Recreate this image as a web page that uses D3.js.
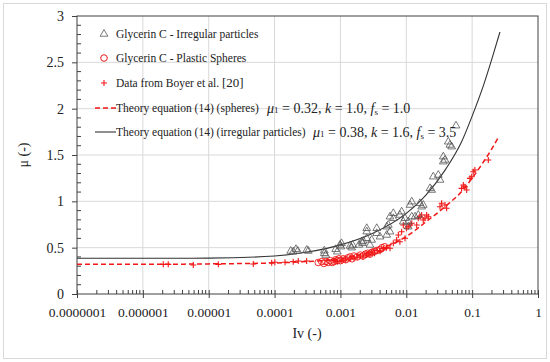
<!DOCTYPE html>
<html>
<head>
<meta charset="utf-8">
<script src="https://cdn.jsdelivr.net/npm/d3@7"></script>
<style>
  body { margin: 0; background: #fff; }
  text { font-family: "Liberation Serif", "Times New Roman", serif; fill: #222; }
</style>
</head>
<body>
<div id="chart"></div>
<script>
// theory curves (Iv, mu)
var theoryIv = [1e-7, 1e-6, 1e-5, 1e-4, 3e-4, 1e-3, 3e-3, 0.01, 0.02, 0.04, 0.07, 0.1, 0.15, 0.2, 0.245];
var theorySpheres = [0.32, 0.32, 0.325, 0.335, 0.35, 0.38, 0.46, 0.62, 0.78, 0.95, 1.11, 1.25, 1.43, 1.57, 1.68];
var theoryIrregIv = [1e-7, 1e-6, 1e-5, 1e-4, 3e-4, 1e-3, 3e-3, 0.01, 0.02, 0.04, 0.07, 0.1, 0.15, 0.2, 0.265];
var theoryIrreg = [0.385, 0.385, 0.387, 0.41, 0.45, 0.53, 0.65, 0.87, 1.07, 1.35, 1.65, 1.92, 2.26, 2.54, 2.83];

// Glycerin C - irregular particles (triangles)
var irregIv = [1.76e-4, 1.92e-4, 2.11e-4, 2.25e-4, 3.08e-4, 3.25e-4, 5.69e-4, 5.69e-4, 5.97e-4, 8.47e-4,
  8.96e-4, 9.84e-4, 1.02e-3, 1.04e-3, 1.40e-3, 1.48e-3, 1.53e-3, 1.91e-3, 2.1e-3, 2.17e-3,
  2.22e-3, 2.51e-3, 2.51e-3, 2.51e-3, 2.81e-3, 2.98e-3, 3.56e-3, 3.56e-3, 3.99e-3, 5.05e-3,
  5.33e-3, 5.05e-3, 5.66e-3, 5.66e-3, 6.35e-3, 6.35e-3, 8.0e-3, 8.5e-3, 9.0e-3, 9.55e-3,
  1.07e-2, 1.07e-2, 1.14e-2, 1.21e-2, 1.21e-2, 1.61e-2, 1.52e-2, 1.36e-2, 1.71e-2, 1.81e-2,
  2.29e-2, 2.43e-2, 2.57e-2, 3.06e-2, 3.25e-2, 3.65e-2, 3.87e-2, 3.65e-2, 4.34e-2, 4.6e-2,
  4.89e-2, 5.69e-2];
var irregMu = [0.464, 0.456, 0.483, 0.464, 0.475, 0.464, 0.467, 0.439, 0.421, 0.483,
  0.456, 0.529, 0.511, 0.547, 0.518, 0.5, 0.529, 0.529, 0.564, 0.547,
  0.572, 0.601, 0.673, 0.709, 0.529, 0.583, 0.709, 0.655, 0.618, 0.726,
  0.745, 0.637, 0.672, 0.834, 0.817, 0.871, 0.852, 0.888, 0.78, 0.817,
  0.726, 0.78, 0.96, 0.996, 0.834, 0.979, 0.852, 0.834, 0.942, 0.96,
  1.14, 1.122, 1.266, 1.284, 1.23, 1.482, 1.446, 1.428, 1.643, 1.608,
  1.59, 1.816];

// Glycerin C - plastic spheres (circles)
var sphereIv = [4.6e-4, 5.2e-4, 5.6e-4, 6.0e-4, 6.5e-4, 7.0e-4, 7.5e-4, 8.0e-4, 8.5e-4, 9.0e-4,
  9.5e-4, 1.0e-3, 1.1e-3, 1.2e-3, 1.3e-3, 1.4e-3, 1.5e-3, 1.6e-3, 1.8e-3, 2.0e-3,
  2.2e-3, 2.4e-3, 2.6e-3, 2.8e-3, 3.0e-3, 3.3e-3, 3.6e-3, 4.0e-3, 4.3e-3, 4.7e-3];
var sphereMu = [0.34, 0.35, 0.33, 0.35, 0.34, 0.36, 0.34, 0.35, 0.37, 0.36,
  0.38, 0.36, 0.38, 0.37, 0.39, 0.40, 0.38, 0.41, 0.40, 0.42,
  0.41, 0.43, 0.44, 0.43, 0.45, 0.46, 0.47, 0.48, 0.50, 0.51];

// Data from Boyer et al. (plus signs)
var boyerIv = [2.04e-6, 2.43e-6, 5.83e-6, 1.40e-5, 4.75e-5, 9.04e-5, 1.01e-4, 1.44e-4, 1.92e-4, 2.29e-4,
  3.07e-4, 8.0e-4, 9.0e-4, 1.05e-3, 1.2e-3, 1.4e-3, 1.6e-3, 1.8e-3, 2.0e-3, 2.2e-3,
  2.5e-3, 2.8e-3, 3.0e-3, 3.3e-3, 3.6e-3, 4.0e-3, 4.5e-3, 5.0e-3, 5.66e-3, 6.35e-3,
  7.14e-3, 7.57e-3, 8.0e-3, 8.5e-3, 9.0e-3, 9.55e-3, 1.01e-2, 1.07e-2, 1.14e-2, 1.21e-2,
  1.44e-2, 1.52e-2, 1.61e-2, 1.71e-2, 1.81e-2, 1.92e-2, 2.04e-2, 2.16e-2, 3.25e-2, 3.44e-2,
  3.87e-2, 4.1e-2, 6.92e-2, 7.35e-2, 7.78e-2, 8.26e-2, 9.27e-2, 9.84e-2, 0.104, 0.11,
  0.176];
var boyerMu = [0.32, 0.32, 0.313, 0.32, 0.324, 0.338, 0.342, 0.342, 0.349, 0.356,
  0.356, 0.36, 0.35, 0.36, 0.37, 0.38, 0.39, 0.40, 0.41, 0.40,
  0.42, 0.43, 0.45, 0.44, 0.47, 0.46, 0.49, 0.50, 0.493, 0.547,
  0.583, 0.637, 0.564, 0.672, 0.745, 0.601, 0.709, 0.726, 0.745, 0.763,
  0.745, 0.817, 0.834, 0.852, 0.798, 0.817, 0.852, 0.834, 0.942, 0.979,
  0.96, 0.925, 1.14, 1.176, 1.158, 1.122, 1.248, 1.266, 1.32, 1.338,
  1.446];

var xTicks = [1e-7, 1e-6, 1e-5, 1e-4, 1e-3, 1e-2, 1e-1, 1];
var xTickLabels = ["0.0000001", "0.000001", "0.00001", "0.0001", "0.001", "0.01", "0.1", "1"];
var yTicks = [0, 0.5, 1, 1.5, 2, 2.5, 3];

var legendLabels = ["Glycerin C - Irregular particles", "Glycerin C - Plastic Spheres",
  "Data from Boyer et al. ", "Theory equation (14) (spheres)", "Theory equation (14) (irregular particles)"];

var W = 550, H = 362;
var svg = d3.select("#chart").append("svg")
    .attr("width", W).attr("height", H);

// outer frame
svg.append("rect")
    .attr("x", 3.5).attr("y", 3.5).attr("width", 543).attr("height", 355)
    .attr("fill", "#fff").attr("stroke", "#d9d9d9");

var x = d3.scaleLog().domain([1e-7, 1]).range([77, 538]);
var y = d3.scaleLinear().domain([0, 3]).range([294, 16]);

// grid
svg.append("g").selectAll("line").data(xTicks.slice(1, -1))
  .enter().append("line")
    .attr("x1", d => x(d)).attr("x2", d => x(d))
    .attr("y1", 16).attr("y2", 294)
    .attr("stroke", "#d9d9d9");
svg.append("g").selectAll("line").data(yTicks.slice(1, -1))
  .enter().append("line")
    .attr("x1", 77).attr("x2", 538)
    .attr("y1", d => y(d)).attr("y2", d => y(d))
    .attr("stroke", "#d9d9d9");

// plot frame
svg.append("rect")
    .attr("x", 77).attr("y", 16).attr("width", 461).attr("height", 278)
    .attr("fill", "none").attr("stroke", "#404040");

// minor ticks
var minorX = [];
xTicks.slice(0, -1).forEach(function(t) {
  for (var m = 2; m <= 9; m++) minorX.push(t * m);
});
svg.append("g").selectAll("line").data(minorX)
  .enter().append("line")
    .attr("x1", d => x(d)).attr("x2", d => x(d))
    .attr("y1", 294).attr("y2", 290)
    .attr("stroke", "#404040");
var minorY = d3.range(1, 30).map(d => d / 10).filter(d => Math.round(d * 10) % 5 !== 0);
svg.append("g").selectAll("line").data(minorY)
  .enter().append("line")
    .attr("x1", 77).attr("x2", 81)
    .attr("y1", d => y(d)).attr("y2", d => y(d))
    .attr("stroke", "#404040");

// major ticks + labels
var xAxis = d3.axisBottom(x).tickValues(xTicks)
    .tickFormat((d, i) => xTickLabels[i]).tickSize(4).tickSizeOuter(0);
var gx = svg.append("g").attr("transform", "translate(0,294)").call(xAxis);
gx.select(".domain").remove();
gx.selectAll("line").attr("stroke", "#404040").attr("y1", -4);
gx.selectAll("text").attr("font-size", "13.5px").attr("font-family", "Liberation Serif")
    .attr("fill", "#222").attr("dy", "0").attr("y", 23);

var yAxis = d3.axisLeft(y).tickValues(yTicks).tickFormat(d => String(d))
    .tickSize(5).tickSizeOuter(0);
var gy = svg.append("g").attr("transform", "translate(77,0)").call(yAxis);
gy.select(".domain").remove();
gy.selectAll("line").attr("stroke", "#404040");
gy.selectAll("text").attr("font-size", "14px").attr("font-family", "Liberation Serif")
    .attr("fill", "#222").attr("x", -13);

// axis titles
svg.append("text")
    .attr("transform", "translate(23,155) rotate(-90)")
    .attr("text-anchor", "middle").attr("dy", "0.35em")
    .attr("font-size", "14px")
    .text("\u03bc (-)");
svg.append("text")
    .attr("x", 307).attr("y", 338)
    .attr("text-anchor", "middle")
    .attr("font-size", "14px")
    .text("Iv (-)");

// theory lines
var line = d3.line().curve(d3.curveMonotoneX)
    .x(d => x(d[0])).y(d => y(d[1]));
svg.append("path")
    .attr("d", line(d3.zip(theoryIrregIv, theoryIrreg)))
    .attr("fill", "none").attr("stroke", "#333").attr("stroke-width", 1.1);
svg.append("path")
    .attr("d", line(d3.zip(theoryIv, theorySpheres)))
    .attr("fill", "none").attr("stroke", "#f01818").attr("stroke-width", 1.5)
    .attr("stroke-dasharray", "5,3");

// markers
var tri = d3.symbol().type(d3.symbolTriangle).size(26);
function plus(cx, cy, s) {
  return "M" + (cx - s) + "," + cy + "H" + (cx + s) + "M" + cx + "," + (cy - s) + "V" + (cy + s);
}

svg.append("g").selectAll("path").data(d3.zip(boyerIv, boyerMu))
  .enter().append("path")
    .attr("d", d => plus(x(d[0]), y(d[1]), 3))
    .attr("stroke", "#f01818").attr("stroke-width", 1.1);

svg.append("g").selectAll("circle").data(d3.zip(sphereIv, sphereMu))
  .enter().append("circle")
    .attr("cx", d => x(d[0])).attr("cy", d => y(d[1])).attr("r", 3.3)
    .attr("fill", "none").attr("stroke", "#f01818").attr("stroke-width", 0.9);

svg.append("g").selectAll("path").data(d3.zip(irregIv, irregMu))
  .enter().append("path")
    .attr("transform", d => "translate(" + x(d[0]) + "," + y(d[1]) + ")")
    .attr("d", tri)
    .attr("fill", "none").attr("stroke", "#555").attr("stroke-width", 0.8);

// legend
var rows = [34, 58, 83, 108, 132];
var lg = svg.append("g");
lg.append("path").attr("transform", "translate(104," + rows[0] + ")").attr("d", tri)
    .attr("fill", "none").attr("stroke", "#555").attr("stroke-width", 0.8);
lg.append("circle").attr("cx", 104).attr("cy", rows[1]).attr("r", 3.3)
    .attr("fill", "none").attr("stroke", "#f01818");
lg.append("path").attr("d", plus(104, rows[2], 3)).attr("stroke", "#f01818").attr("stroke-width", 1.1);
lg.append("line").attr("x1", 95).attr("x2", 116).attr("y1", rows[3]).attr("y2", rows[3])
    .attr("stroke", "#f01818").attr("stroke-width", 1.5).attr("stroke-dasharray", "5,3");
lg.append("line").attr("x1", 95).attr("x2", 116).attr("y1", rows[4]).attr("y2", rows[4])
    .attr("stroke", "#333").attr("stroke-width", 1.1);

lg.selectAll("text.lab").data(legendLabels)
  .enter().append("text")
    .attr("class", "lab")
    .attr("x", 116).attr("y", (d, i) => rows[i]).attr("dy", "0.35em")
    .attr("font-size", "11.5px")
    .text(d => d)
    .filter((d, i) => i === 2)
    .append("tspan").attr("font-size", "13px").text("[20]");

// parameter annotations
function annot(xp, yp, mu, k, fs) {
  var t = svg.append("text").attr("x", xp).attr("y", yp).attr("dy", "0.35em").attr("font-size", "14px");
  t.append("tspan").attr("font-style", "italic").text("\u03bc");
  t.append("tspan").attr("font-size", "9px").text("1");
  t.append("tspan").text(" = " + mu + ", ");
  t.append("tspan").attr("font-style", "italic").text("k");
  t.append("tspan").text(" = " + k + ", ");
  t.append("tspan").attr("font-style", "italic").text("f");
  t.append("tspan").attr("font-size", "9px").attr("dy", "2").text("s");
  t.append("tspan").attr("dy", "-2").text(" = " + fs);
}
annot(267, 108, "0.32", "1.0", "1.0");
annot(313, 132, "0.38", "1.6", "3.5");
</script>
</body>
</html>
